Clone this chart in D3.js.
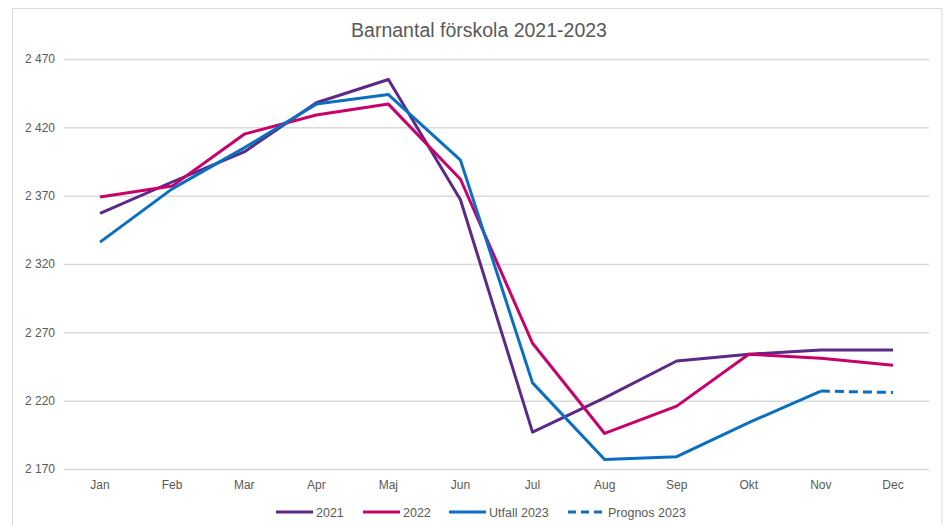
<!DOCTYPE html>
<html>
<head>
<meta charset="utf-8">
<script src="https://cdn.jsdelivr.net/npm/d3@7"></script>
<style>
  html, body { margin: 0; padding: 0; background: #fff; }
  svg { display: block; font-family: "Liberation Sans", Arial, sans-serif; }
</style>
</head>
<body>
<svg id="chart" width="944" height="525"></svg>
<script>
const months = ["Jan","Feb","Mar","Apr","Maj","Jun","Jul","Aug","Sep","Okt","Nov","Dec"];
const yTicks = [2170, 2220, 2270, 2320, 2370, 2420, 2470];
const values2021 = [2357, 2380, 2402, 2438, 2455, 2367, 2197, 2222, 2249, 2254, 2257, 2257];
const values2022 = [2369, 2377, 2415, 2429, 2437, 2382, 2262, 2196, 2216, 2254, 2251, 2246];
const valuesUtfall2023 = [2336, 2375, 2405, 2437, 2444, 2396, 2233, 2177, 2179, 2204, 2227, null];
const valuesPrognos2023 = [null, null, null, null, null, null, null, null, null, null, 2227, 2226];
const seriesNames = ["2021", "2022", "Utfall 2023", "Prognos 2023"];
const seriesColors = ["#5b2a86", "#c8006a", "#0a6fc2", "#0a6fc2"];
const seriesDash = [null, null, null, "9,5"];
const title = "Barnantal förskola 2021-2023";

const svg = d3.select("#chart");

// outer border
svg.append("rect").attr("x", 12.5).attr("y", 8.5).attr("width", 929.5).attr("height", 530)
  .attr("fill", "none").attr("stroke", "#d9d9d9").attr("stroke-width", 1);

const plot = {left: 64, right: 929, top: 59, bottom: 469};

const x = d3.scaleBand().domain(months).range([plot.left, plot.right]);
const xc = m => x(m) + x.bandwidth() / 2;
const y = d3.scaleLinear().domain([2170, 2470]).range([plot.bottom, plot.top]);

const fmt = v => d3.format(",")(v).replace(/,/g, " ");

// gridlines
const yAxis = d3.axisLeft(y).tickValues(yTicks).tickSize(-(plot.right - plot.left)).tickFormat(fmt).tickPadding(9);
const gy = svg.append("g").attr("transform", `translate(${plot.left},0)`).call(yAxis);
gy.select(".domain").remove();
gy.selectAll(".tick line").attr("stroke", "#d9d9d9").attr("stroke-width", 1.5);
gy.selectAll(".tick text").attr("fill", "#595959").style("font-size", "12px")
  .style("font-family", "'Liberation Sans', Arial, sans-serif");

// x axis labels
const xAxis = d3.axisBottom(x).tickSize(0).tickPadding(11);
const gx = svg.append("g").attr("transform", `translate(0,${plot.bottom})`).call(xAxis);
gx.select(".domain").remove();
gx.selectAll(".tick text").attr("fill", "#595959").style("font-size", "12px")
  .style("font-family", "'Liberation Sans', Arial, sans-serif");

// title
svg.append("text").attr("x", 479).attr("y", 37).attr("text-anchor", "middle")
  .attr("fill", "#595959").style("font-size", "19.5px").text(title);

// lines
const allSeries = [values2021, values2022, valuesUtfall2023, valuesPrognos2023];
const line = d3.line()
  .defined(d => d.v !== null)
  .x(d => xc(d.m))
  .y(d => y(d.v));

allSeries.forEach((vals, i) => {
  const data = months.map((m, j) => ({m, v: vals[j]}));
  svg.append("path").datum(data)
    .attr("d", line)
    .attr("fill", "none")
    .attr("stroke", seriesColors[i])
    .attr("stroke-width", 3)
    .attr("stroke-linejoin", "round")
    .attr("stroke-dasharray", seriesDash[i]);
});

// legend
const legendY = 512;
const legendX = [276, 363, 449, 568];
seriesNames.forEach((name, i) => {
  const g = svg.append("g").attr("transform", `translate(${legendX[i]},${legendY})`);
  g.append("line").attr("x1", 0).attr("x2", 37).attr("y1", 0).attr("y2", 0)
    .attr("stroke", seriesColors[i]).attr("stroke-width", 3)
    .attr("stroke-dasharray", i === 3 ? "8,5" : null);
  g.append("text").attr("x", 40).attr("y", 4.5)
    .attr("fill", "#595959").style("font-size", "12.5px").text(name);
});
</script>
</body>
</html>
